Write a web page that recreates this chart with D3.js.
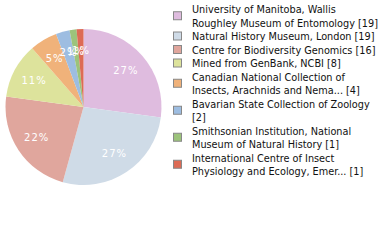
<!DOCTYPE html>
<html>
<head>
<meta charset="utf-8">
<script src="https://cdn.jsdelivr.net/npm/d3@7"></script>
<style>
  body { margin: 0; background: #fff; }
</style>
</head>
<body>
<div id="chart"></div>
<script>
// Data
var institutions = [
    ["University of Manitoba, Wallis", "Roughley Museum of Entomology [19]"],
    ["Natural History Museum, London [19]"],
    ["Centre for Biodiversity Genomics [16]"],
    ["Mined from GenBank, NCBI [8]"],
    ["Canadian National Collection of", "Insects, Arachnids and Nema... [4]"],
    ["Bavarian State Collection of Zoology", "[2]"],
    ["Smithsonian Institution, National", "Museum of Natural History [1]"],
    ["International Centre of Insect", "Physiology and Ecology, Emer... [1]"]
];
var counts = [19, 19, 16, 8, 4, 2, 1, 1];
var colors = ["#dfbcdf", "#cfdbe7", "#e0a69d", "#dde39c", "#f0b27a", "#9dbde1", "#9cc37b", "#dd6b55"];

var width = 380, height = 240;
var cx = 83.5, cy = 107, radius = 78;

var svg = d3.select("#chart")
    .append("svg")
    .attr("width", width)
    .attr("height", height);

var total = d3.sum(counts);
var pie = d3.pie().sort(null).value(function (d) { return d; });
var arcs = pie(counts);
var arc = d3.arc().innerRadius(0).outerRadius(radius);
var labelArc = d3.arc().innerRadius(radius * 0.72).outerRadius(radius * 0.72);

var g = svg.append("g")
    .attr("transform", "translate(" + cx + "," + cy + ")");

g.selectAll("path")
    .data(arcs)
    .enter()
    .append("path")
    .attr("d", arc)
    .style("fill", function (d, i) { return colors[i]; });

// Percent labels (truncated, like the original)
g.selectAll("text")
    .data(arcs)
    .enter()
    .append("text")
    .attr("transform", function (d) { return "translate(" + labelArc.centroid(d) + ")"; })
    .attr("dy", "0.35em")
    .attr("text-anchor", "middle")
    .style("font-family", "DejaVu Sans")
    .style("font-size", "10px")
    .style("letter-spacing", "1px")
    .style("fill", "#fff")
    .text(function (d) { return Math.floor(d.data / total * 100) + "%"; });

// Legend
var lineH = 13.5, firstBase = 13;
var legend = svg.append("g");
var line = 0;
institutions.forEach(function (lines, i) {
    var top = firstBase + line * lineH;
    var mid = top - 4 + (lines.length - 1) * lineH / 2;
    legend.append("rect")
        .attr("x", 173.5)
        .attr("y", mid - 4)
        .attr("width", 8)
        .attr("height", 8)
        .style("fill", colors[i])
        .style("stroke", "#888")
        .style("stroke-width", 1);
    lines.forEach(function (t, j) {
        legend.append("text")
            .attr("x", 192)
            .attr("y", top + j * lineH)
            .style("font-family", "DejaVu Sans Condensed")
            .style("font-size", "10.8px")
            .style("fill", "#111")
            .text(t);
    });
    line += lines.length;
});
</script>
</body>
</html>
